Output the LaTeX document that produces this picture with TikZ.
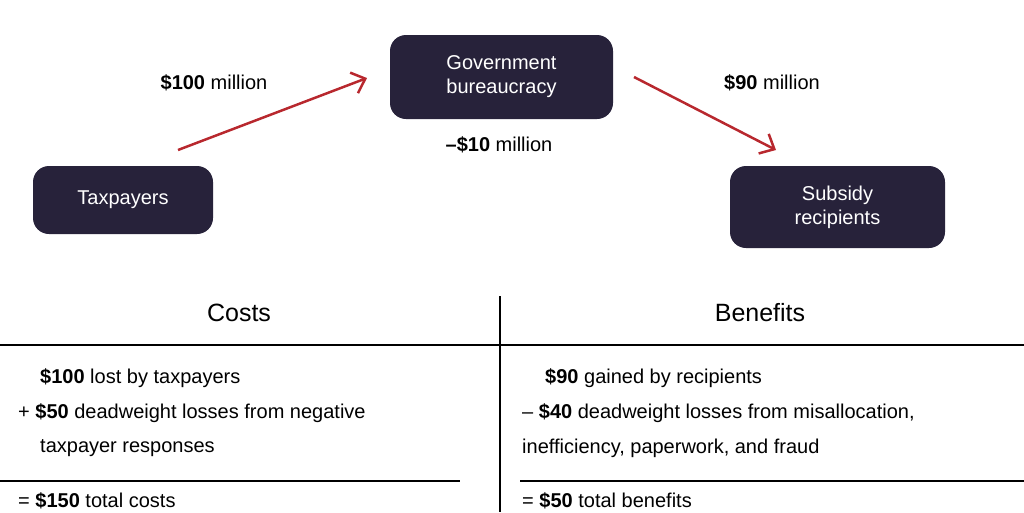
\documentclass[tikz,border=0pt]{standalone}
\usepackage{fontspec}
\setmainfont{Liberation Sans}
\usetikzlibrary{arrows.meta}
\definecolor{boxc}{HTML}{27223A}
\definecolor{arr}{HTML}{B8282E}
\begin{document}
\begin{tikzpicture}[x=1pt,y=-1pt,
  box/.style={fill=boxc,rounded corners=16pt,text=white,align=center,font=\fontsize{20}{24}\selectfont},
  lbl/.style={font=\fontsize{20}{24}\selectfont,inner sep=0pt},
  row/.style={font=\fontsize{20}{24}\selectfont,inner sep=0pt,anchor=west},
  flow/.style={arr,line width=2.5pt,-{Straight Barb[length=12pt,width=22pt,line width=2.5pt]}},
  rule/.style={line width=1.2pt}]
\useasboundingbox (0,0) rectangle (1024,512);
\node[box,minimum width=180pt,minimum height=68pt] (tax) at (123,200) {Taxpayers};
\node[box,minimum width=223pt,minimum height=84pt] (gov) at (501.5,77) {Government\\bureaucracy};
\node[box,minimum width=215pt,minimum height=82pt] (sub) at (837.5,207) {Subsidy\\recipients};
\coordinate (a1) at (178,150); \coordinate (a2) at (367,78);
\coordinate (b1) at (634,77); \coordinate (b2) at (776,150);
\draw[flow] (a1) -- (a2);
\draw[flow] (b1) -- (b2);
\node[lbl] (l1) at (214,83) {\textbf{\$100} million};
\node[lbl] (l2) at (772,83) {\textbf{\$90} million};
\node[lbl] (l3) at (499,145) {\textbf{–\$10} million};
\coordinate (v1) at (500,296); \coordinate (v2) at (500,512);
\draw[rule] (v1) -- (v2);
\coordinate (h1) at (0,345); \coordinate (h2) at (1024,345);
\draw[rule] (h1) -- (h2);
\coordinate (c1) at (0,481); \coordinate (c2) at (460,481);
\coordinate (d1) at (520,481); \coordinate (d2) at (1024,481);
\draw[rule] (c1) -- (c2);
\draw[rule] (d1) -- (d2);
\node[font=\fontsize{25}{30}\selectfont] (costs) at (239,313) {Costs};
\node[font=\fontsize{25}{30}\selectfont] (ben) at (760,313) {Benefits};
\node[row] (r1) at (40,378) {\textbf{\$100} lost by taxpayers};
\node[row] (r2) at (18,413) {+ \textbf{\$50} deadweight losses from negative};
\node[row] (r3) at (40,448) {taxpayer responses};
\node[row] (r4) at (18,501) {= \textbf{\$150} total costs};
\node[row] (s1) at (545,378) {\textbf{\$90} gained by recipients};
\node[row] (s2) at (522,413) {– \textbf{\$40} deadweight losses from misallocation,};
\node[row] (s3) at (522,448) {inefficiency, paperwork, and fraud};
\node[row] (s4) at (522,501) {= \textbf{\$50} total benefits};
\end{tikzpicture}
\end{document}
